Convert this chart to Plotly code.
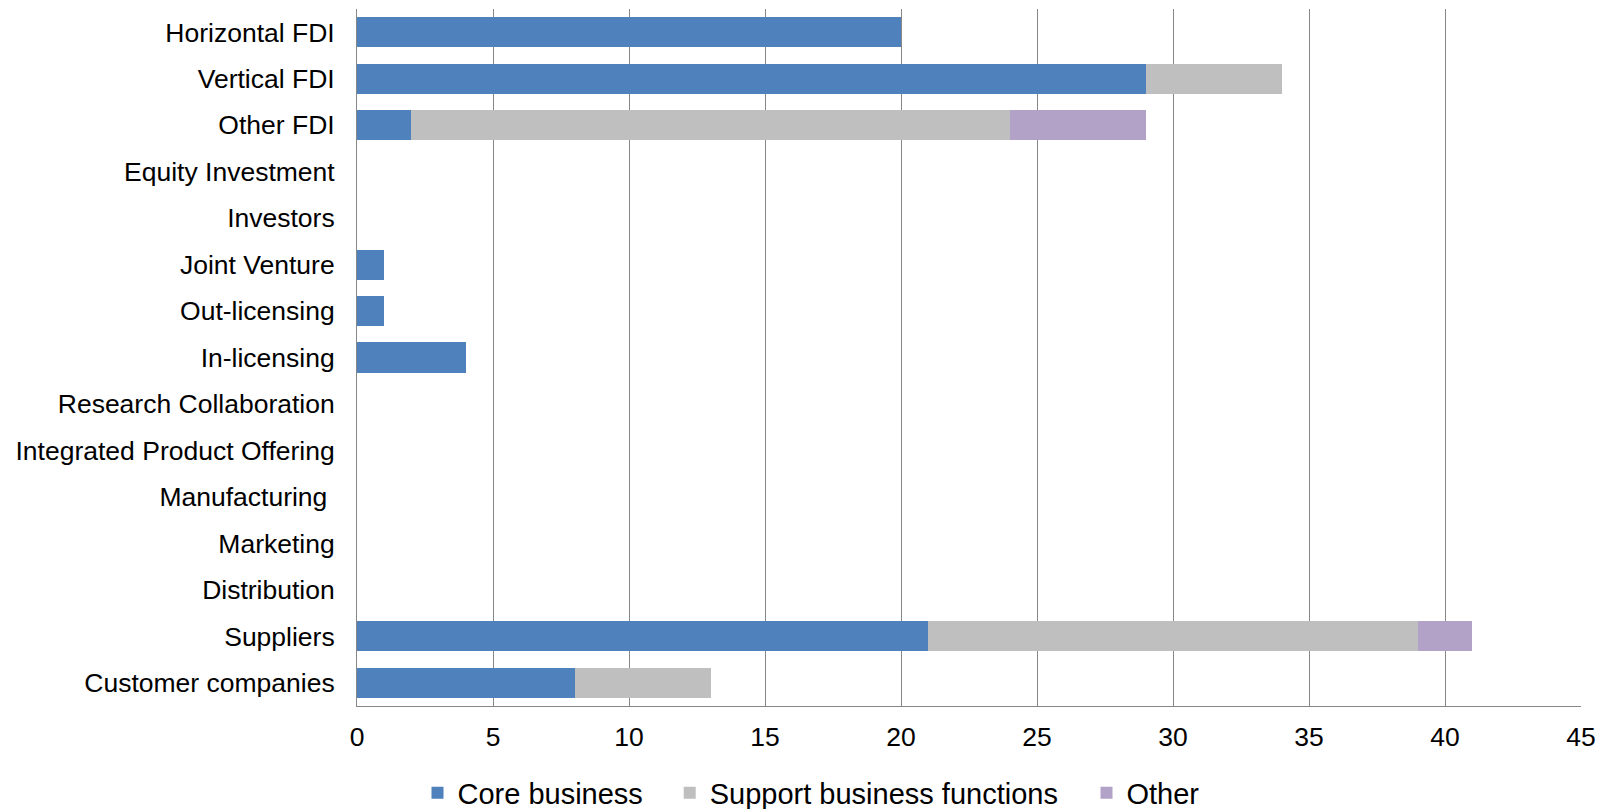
import plotly.graph_objects as go

categories = ["Horizontal FDI", "Vertical FDI", "Other FDI", "Equity Investment", "Investors",
              "Joint Venture", "Out-licensing", "In-licensing", "Research Collaboration",
              "Integrated Product Offering", "Manufacturing ", "Marketing", "Distribution",
              "Suppliers", "Customer companies"]
core_business = [20, 29, 2, 0, 0, 1, 1, 4, 0, 0, 0, 0, 0, 21, 8]
support_functions = [0, 5, 22, 0, 0, 0, 0, 0, 0, 0, 0, 0, 0, 18, 5]
other = [0, 0, 5, 0, 0, 0, 0, 0, 0, 0, 0, 0, 0, 2, 0]
x_ticks = [0, 5, 10, 15, 20, 25, 30, 35, 40, 45]

FONT = "Liberation Sans, Arial, sans-serif"
W, H = 1606, 809

series = [("Core business", core_business, "#4F81BD", "legend", 417.5),
          ("Support business functions", support_functions, "#BFBFBF", "legend2", 669.7),
          ("Other", other, "#B3A2C7", "legend3", 1086.5)]

fig = go.Figure()
legends = {}
for name, vals, color, leg, lx in series:
    fig.add_trace(go.Bar(y=categories, x=vals, name=name, orientation="h", legend=leg,
                         marker=dict(color=color, line=dict(width=0))))
    legends[leg] = dict(orientation="h", xref="container", yref="container",
                        x=lx / W, xanchor="left", y=0.02, yanchor="middle",
                        font=dict(family=FONT, size=29), itemwidth=30,
                        bgcolor="rgba(0,0,0,0)")

fig.update_layout(
    barmode="stack",
    bargap=0.354,
    width=W, height=H,
    margin=dict(l=357, r=25, t=9, b=103),
    plot_bgcolor="white", paper_bgcolor="white",
    font=dict(family=FONT, size=26.5, color="#000000"),
    showlegend=True,
    xaxis=dict(range=[0, 45], tickvals=x_ticks, showgrid=True, gridcolor="#878787", gridwidth=1,
               showline=True, linecolor="#878787", linewidth=1, zeroline=False,
               ticks="", ticklabelstandoff=7, tickfont=dict(size=26.5)),
    yaxis=dict(autorange="reversed", showline=True, linecolor="#878787", linewidth=1,
               showgrid=False, ticks="", ticklabelstandoff=16, tickfont=dict(size=26.5)),
    **legends,
)

fig.write_html("out.html")
